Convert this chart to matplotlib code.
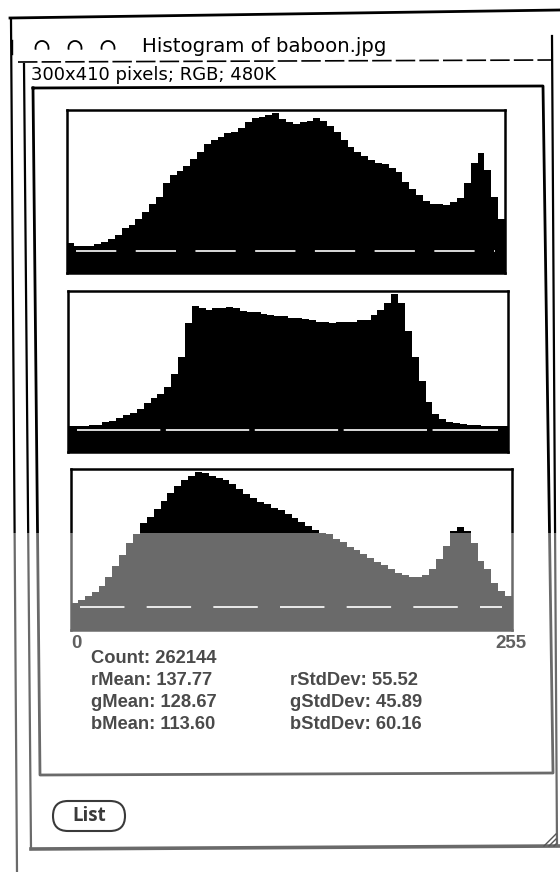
import numpy as np
import matplotlib.pyplot as plt
from matplotlib.patches import Arc, FancyBboxPatch, Rectangle

plt.rcParams['lines.scale_dashes'] = False

# -----------------------------
# Data (relative bin heights, 4 grey levels per bin)
# -----------------------------
bin_start = np.arange(0, 256, 4)

red_hist = [0.04, 0.02, 0.02, 0.02, 0.03, 0.05, 0.07, 0.10, 0.15, 0.17,
            0.22, 0.27, 0.33, 0.38, 0.48, 0.54, 0.57, 0.61, 0.66, 0.71,
            0.77, 0.80, 0.82, 0.85, 0.86, 0.89, 0.93, 0.96, 0.97, 0.98,
            1.00, 0.95, 0.93, 0.92, 0.93, 0.94, 0.96, 0.94, 0.90, 0.86,
            0.80, 0.75, 0.71, 0.68, 0.65, 0.63, 0.62, 0.59, 0.56, 0.49,
            0.44, 0.39, 0.35, 0.33, 0.33, 0.32, 0.34, 0.37, 0.48, 0.63,
            0.70, 0.58, 0.38, 0.22]

green_hist = [0.01, 0.01, 0.01, 0.015, 0.02, 0.04, 0.05, 0.07, 0.09, 0.11,
              0.14, 0.18, 0.22, 0.25, 0.30, 0.40, 0.53, 0.78, 0.91, 0.89,
              0.88, 0.89, 0.89, 0.90, 0.89, 0.87, 0.86, 0.86, 0.85, 0.84,
              0.83, 0.83, 0.82, 0.82, 0.81, 0.80, 0.79, 0.79, 0.78, 0.79,
              0.79, 0.79, 0.80, 0.80, 0.84, 0.88, 0.93, 1.00, 0.93, 0.72,
              0.53, 0.35, 0.19, 0.10, 0.06, 0.04, 0.03, 0.025, 0.02, 0.015,
              0.01, 0.01, 0.01, 0.01]

blue_hist = [0.01, 0.03, 0.06, 0.09, 0.14, 0.21, 0.29, 0.37, 0.46, 0.53,
             0.61, 0.66, 0.72, 0.78, 0.84, 0.89, 0.94, 0.97, 1.00, 0.99,
             0.97, 0.95, 0.94, 0.91, 0.87, 0.83, 0.80, 0.77, 0.76, 0.73,
             0.71, 0.68, 0.65, 0.62, 0.59, 0.56, 0.54, 0.53, 0.49, 0.47,
             0.43, 0.41, 0.38, 0.35, 0.32, 0.30, 0.27, 0.24, 0.22, 0.21,
             0.21, 0.22, 0.27, 0.34, 0.44, 0.55, 0.58, 0.55, 0.46, 0.33,
             0.27, 0.16, 0.10, 0.06]

title = "Histogram of baboon.jpg"
info = "300x410 pixels; RGB; 480K"
stats_left = ["Count: 262144", "rMean: 137.77", "gMean: 128.67", "bMean: 113.60"]
stats_right = ["", "rStdDev: 55.52", "gStdDev: 45.89", "bStdDev: 60.16"]
range_labels = ["0", "255"]
button_label = "List"

# -----------------------------
# Figure / window chrome (pixel coordinates)
# -----------------------------
W, H = 560, 872
fig = plt.figure(figsize=(W / 100, H / 100), dpi=100)
fig.patch.set_facecolor("white")

bg = fig.add_axes([0, 0, 1, 1], zorder=-1)
bg.set_xlim(0, W)
bg.set_ylim(H, 0)
bg.axis("off")

k = "black"
bg.plot([10, 560], [18, 10], color=k, lw=2)
bg.plot([11, 17], [20, 872], color=k, lw=1.6)
bg.plot([24, 31], [64, 849], color=k, lw=1.6)
bg.plot([31, 560], [849, 846], color=k, lw=2.6)
bg.plot([552, 557], [36, 846], color=k, lw=1.6)
bg.plot([18, 552], [62, 60], color=k, lw=1.2, dashes=(14, 3))
bg.plot([12, 12], [40, 54], color=k, lw=1)

# inner panel
bg.plot([33, 543, 553, 40, 33], [88, 86, 773, 775, 88], color=k, lw=2)

# window buttons (y axis is inverted, so angles are mirrored)
for cx in (42, 75, 108):
    bg.add_patch(Arc((cx, 48), 13, 14, theta1=165, theta2=375, color=k, lw=1.3))

bg.text(142, 47, title, fontsize=14.2, family="DejaVu Sans", va="center", ha="left")
bg.text(31, 75, info, fontsize=13, family="DejaVu Sans", va="center", ha="left")

# -----------------------------
# Histograms
# -----------------------------
panels = [
    (67, 505, 110, 248, 273, red_hist, (29, 14)),
    (68, 508, 291, 427, 452, green_hist, (60, 4)),
    (71, 512, 469, 604, 630, blue_hist, (32, 16)),
]

for x0, x1, y0, yb, y1, vals, dash in panels:
    ax = fig.add_axes([x0 / W, 1 - y1 / H, (x1 - x0) / W, (y1 - y0) / H])
    scale = yb - y0
    ymin = -(y1 - yb) / scale
    ax.set_xlim(0, 256)
    ax.set_ylim(ymin, 1.02)
    ax.bar(bin_start, vals, width=4, align="edge", color=k, linewidth=0)
    ax.axhspan(ymin, 0, color=k, lw=0)
    ax.plot([5, 250], [-3 / scale, -3 / scale], color="white", lw=1.2, dashes=dash)
    ax.set_xticks([])
    ax.set_yticks([])
    for s in ax.spines.values():
        s.set_linewidth(1.8)
        s.set_color(k)

# scan watermark: lower part of the page is washed out
ov = fig.add_axes([0, 0, 1, 1], zorder=10)
ov.set_xlim(0, W)
ov.set_ylim(H, 0)
ov.axis("off")
ov.patch.set_alpha(0)
ov.add_patch(Rectangle((0, 533), W, H - 533, color="white", alpha=0.42, lw=0))

txt = "#4a4a4a"
ov.text(76, 643, range_labels[0], fontsize=13.5, family="Liberation Sans",
        weight="bold", ha="center", va="center", color="#606060")
ov.text(511, 643, range_labels[1], fontsize=13.5, family="Liberation Sans",
        weight="bold", ha="center", va="center", color="#606060")

# -----------------------------
# Statistics text
# -----------------------------
for i, (a, b) in enumerate(zip(stats_left, stats_right)):
    y = 658 + 22 * i
    ov.text(91, y, a, fontsize=13.2, family="Liberation Sans", weight="bold",
            ha="left", va="center", color=txt)
    if b:
        ov.text(290, y, b, fontsize=13.2, family="Liberation Sans", weight="bold",
                ha="left", va="center", color=txt)

# List button
ov.add_patch(FancyBboxPatch((53, 801), 72, 30, boxstyle="round,pad=0,rounding_size=15",
                            fc="none", ec="#3a3a3a", lw=1.5))
ov.text(89, 816, button_label, fontsize=13.5, family="Open Sans", weight="bold",
        ha="center", va="center", color="#3a3a3a")

# resize grip
for d in (0, 5, 10):
    ov.plot([544 + d, 556], [846, 834 + d], color="#555555", lw=1)

fig.savefig("out.png", dpi=100)
